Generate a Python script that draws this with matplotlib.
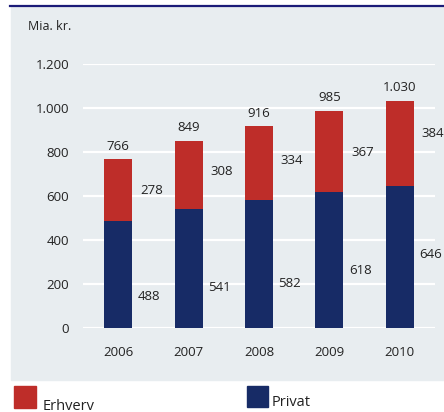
import matplotlib
matplotlib.use("Agg")
import matplotlib.pyplot as plt
from matplotlib.patches import Rectangle
from matplotlib.lines import Line2D

plt.rcParams['font.family'] = ['Open Sans', 'DejaVu Sans']

years = ["2006", "2007", "2008", "2009", "2010"]
privat = [488, 541, 582, 618, 646]
erhverv = [278, 308, 334, 367, 384]
totals = [766, 849, 916, 985, 1030]
yticks = [0, 200, 400, 600, 800, 1000, 1200]

# where the segment labels sit (data units), as placed in the original
privat_label_y = [142, 183, 203, 260, 335]
erhverv_label_y = [627, 710, 760, 797, 885]

RED = "#BE2D29"
BLUE = "#172B66"
PANEL = "#E8EDF0"
W, H = 444, 412


def fmt(v):
    return f"{v:,}".replace(",", ".")


fig = plt.figure(figsize=(W / 100, H / 100), dpi=100)

# background panel + dark top rule
fig.patches.append(Rectangle((11 / W, 1 - 380 / H), 1 - 11 / W, 374 / H,
                             transform=fig.transFigure, color=PANEL, zorder=-10))
fig.lines.append(Line2D([10 / W, 1], [1 - 5.5 / H, 1 - 5.5 / H],
                        transform=fig.transFigure, color="#1B1B78", lw=1.6))

ax = fig.add_axes([83 / W, 84 / H, (435 - 83) / W, (328 - 64) / H])
ax.set_zorder(1)
ax.patch.set_alpha(0)
for s in ax.spines.values():
    s.set_visible(False)

x = list(range(len(years)))
for t in yticks:
    ax.axhline(t, color="white", lw=1.6, zorder=0)

ax.bar(x, privat, width=0.4, color=BLUE, zorder=2)
ax.bar(x, erhverv, width=0.4, bottom=privat, color=RED, zorder=2)

for i in x:
    ax.annotate(fmt(totals[i]), (i, totals[i]), xytext=(0, 9.7), textcoords="offset points",
                ha="center", va="center", fontsize=9.5, color="#222222")
    ax.text(i + 0.47, erhverv_label_y[i], fmt(erhverv[i]), ha="center", va="center",
            fontsize=9.5, color="#222222")
    ax.text(i + 0.44, privat_label_y[i], fmt(privat[i]), ha="center", va="center",
            fontsize=9.5, color="#222222")

ax.set_xlim(-0.5, 4.5)
ax.set_ylim(0, 1200)
ax.set_yticks(yticks)
ax.set_yticklabels([fmt(t) for t in yticks])
ax.set_xticks(x)
ax.set_xticklabels(years)
ax.tick_params(axis="y", length=0, pad=10, labelsize=9.5, labelcolor="#222222")
ax.tick_params(axis="x", length=0, pad=13, labelsize=9.5, labelcolor="#222222")

fig.text(28 / W, 1 - 26 / H, "Mia. kr.", ha="left", va="center", fontsize=9, color="#222222")

# legend
fig.patches.append(Rectangle((14 / W, 1 - 408 / H), 22 / W, 22 / H,
                             transform=fig.transFigure, color=RED))
fig.text(43 / W, 1 - 409.5 / H, "Erhverv", ha="left", va="baseline", fontsize=10.5, color="#222222")
fig.patches.append(Rectangle((247 / W, 1 - 407 / H), 21 / W, 21 / H,
                             transform=fig.transFigure, color=BLUE))
fig.text(272 / W, 1 - 406.5 / H, "Privat", ha="left", va="baseline", fontsize=10.5, color="#222222")

fig.savefig("out.png", dpi=100)
